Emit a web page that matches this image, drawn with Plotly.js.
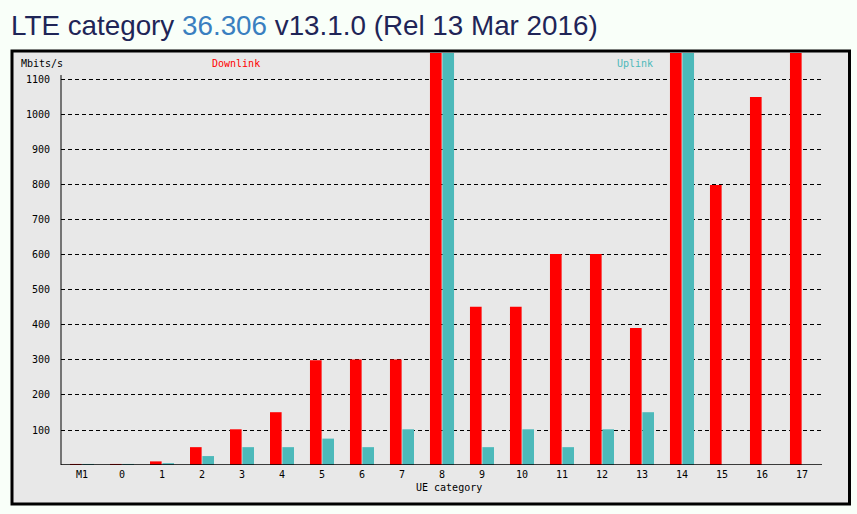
<!DOCTYPE html>
<html>
<head>
<meta charset="utf-8">
<script src="https://cdn.plot.ly/plotly-3.0.1.min.js"></script>
<style>
  html, body { margin: 0; padding: 0; background: #f9fff9; }
  #chart { width: 857px; height: 514px; }
</style>
</head>
<body>
<div id="chart"></div>
<script>
// UE categories
const categories = ['M1','0','1','2','3','4','5','6','7','8','9','10','11','12','13','14','15','16','17'];
// Peak downlink rate, Mbit/s
const downlink = [3, 3, 10.3, 51, 102, 150.8, 299.6, 301.5, 301.5, 2998.6, 452.3, 452.3, 603, 603, 391.7, 3916.6, 800, 1051, 25065];
// Peak uplink rate, Mbit/s (none for 15-17)
const uplink = [3, 3, 5.2, 25.5, 51, 51, 75.4, 51, 102, 1497.8, 51, 102, 51, 102, 150.8, 9585, null, null, null];
// Y tick values
const yTicks = [100, 200, 300, 400, 500, 600, 700, 800, 900, 1000, 1100];

const W = 857, H = 514;
const L = 61, R = 35, T = 53, B = 49;
const pw = W - L - R, ph = H - T - B;
const px = x => (x - L) / pw;
const py = y => (H - B - y) / ph;

const mono = 'DejaVu Sans Mono, monospace';
const red = '#ff0000', teal = '#4db9ba';

const traces = [
  { type: 'bar', name: 'Downlink', x: categories, y: downlink, marker: { color: red, line: { width: 0 } } },
  { type: 'bar', name: 'Uplink', x: categories, y: uplink, marker: { color: teal, line: { width: 0 } } }
];

const layout = {
  width: W, height: H,
  margin: { l: L, r: R, t: T, b: B, pad: 0 },
  paper_bgcolor: '#f9fff9',
  plot_bgcolor: 'rgba(0,0,0,0)',
  showlegend: false,
  barmode: 'group',
  bargap: 0.38,
  bargroupgap: 0.06,
  title: {
    text: 'LTE category <span style="color:#3a7fc0">36.306</span> v13.1.0 (Rel 13 Mar 2016)',
    font: { family: 'Liberation Sans, Arial, sans-serif', size: 27.8, color: '#1f2557' },
    xref: 'container', yref: 'container',
    x: 11 / W, xanchor: 'left',
    y: 1 - 25.5 / H, yanchor: 'middle'
  },
  xaxis: {
    type: 'category',
    range: [-0.525, 18.5],
    showgrid: false, zeroline: false, showline: false,
    ticks: '',
    ticklabelstandoff: 2,
    tickfont: { family: mono, size: 10, color: '#000' },
    fixedrange: true
  },
  yaxis: {
    range: [0, 1177],
    tickvals: yTicks,
    ticktext: yTicks.map(String),
    showgrid: true, gridcolor: '#000', gridwidth: 1, griddash: '4px,3px',
    zeroline: false, showline: false,
    ticks: '',
    ticklabelstandoff: 10,
    tickfont: { family: mono, size: 10, color: '#000' },
    fixedrange: true
  },
  shapes: [
    { type: 'rect', xref: 'paper', yref: 'paper', layer: 'below',
      x0: px(12), x1: px(849.5), y0: py(504), y1: py(51),
      fillcolor: '#e8e8e8', line: { color: '#000', width: 3 } },
    { type: 'line', xref: 'paper', yref: 'y', x0: 0, x1: 0, y0: 0, y1: 1114,
      line: { color: '#000', width: 1 } },
    { type: 'line', xref: 'paper', yref: 'y', x0: 0, x1: 1, y0: 0, y1: 0,
      line: { color: '#000', width: 1.5 } }
  ],
  annotations: [
    { text: 'Mbits/s', xref: 'paper', yref: 'paper', x: px(41.5), y: py(64), xanchor: 'center', yanchor: 'middle',
      showarrow: false, font: { family: mono, size: 10, color: '#000' } },
    { text: 'Downlink', xref: 'paper', yref: 'paper', x: px(236), y: py(64), xanchor: 'center', yanchor: 'middle',
      showarrow: false, font: { family: mono, size: 10, color: red } },
    { text: 'Uplink', xref: 'paper', yref: 'paper', x: px(635), y: py(64), xanchor: 'center', yanchor: 'middle',
      showarrow: false, font: { family: mono, size: 10, color: teal } },
    { text: 'UE category', xref: 'paper', yref: 'paper', x: px(448.5), y: py(487), xanchor: 'center', yanchor: 'middle',
      showarrow: false, font: { family: mono, size: 10, color: '#000' } }
  ]
};

Plotly.newPlot('chart', traces, layout, { staticPlot: true, displayModeBar: false });
</script>
</body>
</html>
